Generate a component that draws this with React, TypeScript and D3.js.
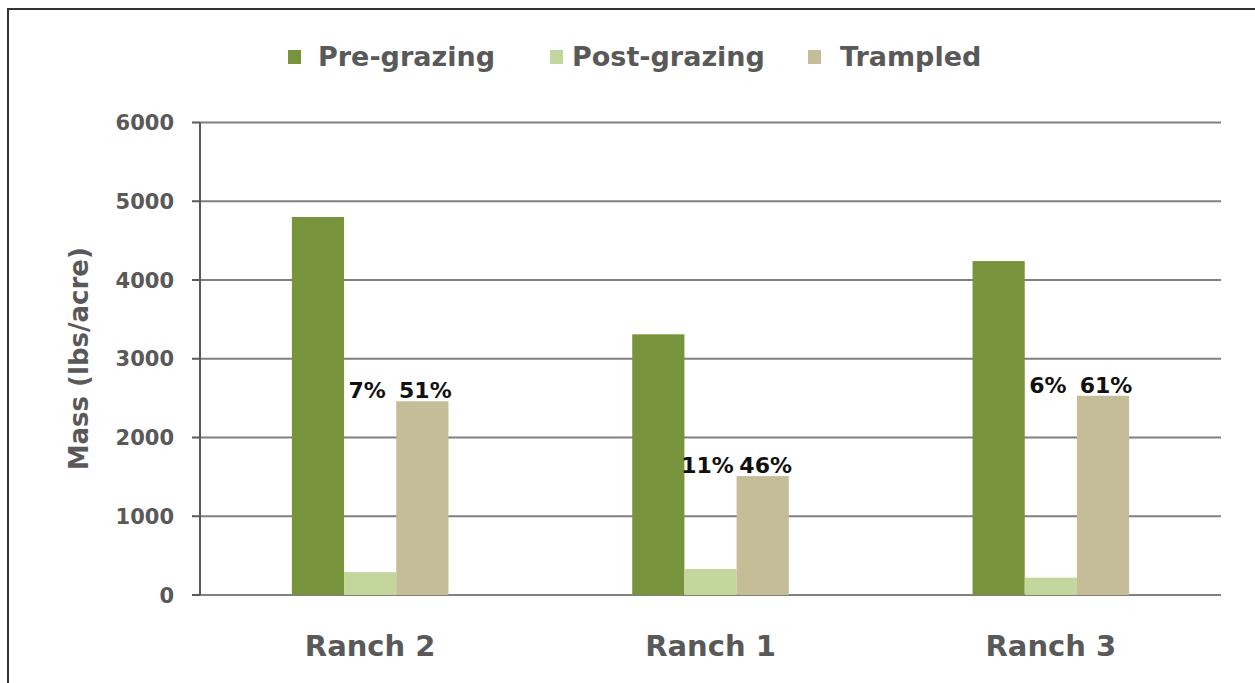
import React from "react";
import * as d3 from "d3";

const categories = ["Ranch 2", "Ranch 1", "Ranch 3"];
const seriesNames = ["Pre-grazing", "Post-grazing", "Trampled"];
const preGrazing = [4800, 3310, 4240];
const postGrazing = [290, 330, 220];
const trampled = [2460, 1510, 2530];
const postPctLabels = ["7%", "11%", "6%"];
const trampledPctLabels = ["51%", "46%", "61%"];
const yTicks = [0, 1000, 2000, 3000, 4000, 5000, 6000];
const colors = ["#77933C", "#C3D69B", "#C4BD97"];

const W = 1255;
const H = 683;
const FONT = "'DejaVu Sans', Verdana, sans-serif";

export default function App() {
  const left = 200;
  const right = 1221;
  const top = 122.5;
  const bottom = 595;
  const y = d3.scaleLinear().domain([0, 6000]).range([bottom, top]);
  const x0 = d3.scaleBand<string>().domain(categories).range([left, right]).paddingInner(0.54).paddingOuter(0.27);
  const x1 = d3.scaleBand<string>().domain(seriesNames).range([0, x0.bandwidth()]).padding(0);
  const series = [preGrazing, postGrazing, trampled];

  const legendItems = [
    { name: seriesNames[0], sx: 288, tx: 318 },
    { name: seriesNames[1], sx: 550, tx: 572 },
    { name: seriesNames[2], sx: 808, tx: 840 },
  ];

  return (
    <div style={{ position: "fixed", left: 0, top: 0, width: W, height: H, background: "#fff" }}>
      <svg width={W} height={H} style={{ display: "block" }}>
        <rect x={0} y={0} width={W} height={H} fill="#fff" />
        {/* frame */}
        <line x1={7} x2={W} y1={9} y2={9} stroke="#333" strokeWidth={2} />
        <line x1={8} x2={8} y1={8} y2={H} stroke="#333" strokeWidth={2} />

        {/* legend */}
        {legendItems.map((it, i) => (
          <g key={it.name}>
            <rect x={it.sx} y={50} width={13} height={14} fill={colors[i]} />
            <text x={it.tx} y={66} fontFamily={FONT} fontWeight="bold" fontSize={27} fill="#595959">
              {it.name}
            </text>
          </g>
        ))}

        {/* gridlines */}
        {yTicks.map((t) => (
          <line key={t} x1={t === 0 ? left - 8 : left} x2={right} y1={y(t)} y2={y(t)} stroke="#808080" strokeWidth={2} />
        ))}
        {/* y axis */}
        <line x1={left} x2={left} y1={top} y2={bottom} stroke="#595959" strokeWidth={2} />
        {yTicks.map((t) => (
          <g key={"t" + t}>
            <line x1={left - 8} x2={left} y1={y(t)} y2={y(t)} stroke="#595959" strokeWidth={2} />
            <text x={174} y={y(t)} dy="0.36em" textAnchor="end" fontFamily={FONT} fontWeight="bold" fontSize={21} fill="#595959">
              {t}
            </text>
          </g>
        ))}
        <text
          transform={`translate(88,${(top + bottom) / 2}) rotate(-90)`}
          textAnchor="middle"
          fontFamily={FONT}
          fontWeight="bold"
          fontSize={26}
          fill="#595959"
        >
          Mass (lbs/acre)
        </text>

        {/* bars */}
        {categories.map((c, ci) => (
          <g key={c} transform={`translate(${x0(c)},0)`}>
            {series.map((s, si) => (
              <rect
                key={si}
                x={x1(seriesNames[si])}
                y={y(s[ci])}
                width={x1.bandwidth()}
                height={bottom - y(s[ci])}
                fill={colors[si]}
              />
            ))}
            <text
              x={(x1(seriesNames[1]) as number) + x1.bandwidth() / 2 - 3}
              y={y(trampled[ci]) - 3}
              textAnchor="middle"
              fontFamily={FONT}
              fontWeight="bold"
              fontSize={22}
              fill="#111"
            >
              {postPctLabels[ci]}
            </text>
            <text
              x={(x1(seriesNames[2]) as number) + x1.bandwidth() / 2 + 3}
              y={y(trampled[ci]) - 3}
              textAnchor="middle"
              fontFamily={FONT}
              fontWeight="bold"
              fontSize={22}
              fill="#111"
            >
              {trampledPctLabels[ci]}
            </text>
            <text
              x={x0.bandwidth() / 2}
              y={656}
              textAnchor="middle"
              fontFamily={FONT}
              fontWeight="bold"
              fontSize={29}
              fill="#595959"
            >
              {c}
            </text>
          </g>
        ))}
      </svg>
    </div>
  );
}
